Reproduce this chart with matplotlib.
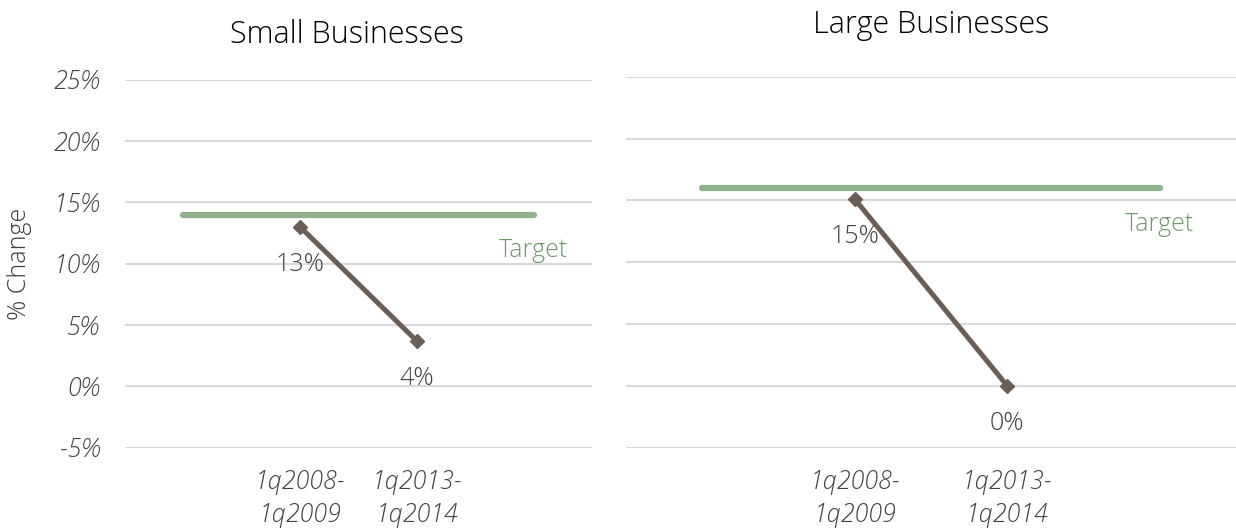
import numpy as np
import matplotlib.pyplot as plt
from matplotlib.ticker import FuncFormatter

# Category slots (Excel-style: outer two slots only carry the target line)
categories = ["", "1q2008-\n1q2009", "1q2013-\n1q2014", ""]
small_change = [np.nan, 13.0, 3.7, np.nan]
large_change = [np.nan, 15.1, 0.0, np.nan]
small_target = [14.0, 14.0, 14.0, 14.0]
large_target = [16.0, 16.0, 16.0, 16.0]
y_ticks = [-5, 0, 5, 10, 15, 20, 25]

FONT = ["Open Sans", "DejaVu Sans"]
plt.rcParams['font.family'] = FONT

LINE_C = "#6b5e56"
TARGET_C = "#8fb28c"
TARGET_TXT = "#6a9a68"
TEXT_C = "#404040"
GRID_C = "#d9d9d9"

fig = plt.figure(figsize=(12.36, 5.31), dpi=100)
ax1 = fig.add_axes([0.1011, 0.1569, 0.3778, 0.6930])
ax2 = fig.add_axes([0.5065, 0.1569, 0.4935, 0.6987])


def draw_panel(ax, change, target, show_y):
    x = np.arange(len(categories))
    ax.plot(x, target, color=TARGET_C, linewidth=4.5, solid_capstyle='round', zorder=2)
    ax.plot(x, change, color=LINE_C, linewidth=3.6, marker='D', markersize=7,
            zorder=3)

    for xi, v in zip(x, change):
        if not np.isnan(v):
            ax.annotate(f"{v:.0f}%", (xi, v), xytext=(0, -27), textcoords='offset points',
                        ha='center', va='center', fontsize=18, color=TEXT_C,
                        fontweight='light')
    ax.annotate("Target", (x[-1], target[-1]), xytext=(0, -26), textcoords='offset points',
                ha='center', va='center', fontsize=18, color=TARGET_TXT, fontweight='light')

    ax.set_xlim(-0.5, len(categories) - 0.5)
    ax.set_ylim(-5, 25)
    ax.set_yticks(y_ticks)
    ax.yaxis.set_major_formatter(FuncFormatter(lambda v, p: f"{v:.0f}%"))
    ax.set_xticks(x)
    ax.set_xticklabels(categories, linespacing=1.45)
    ax.grid(axis='y', color=GRID_C, linewidth=1.5)
    ax.set_axisbelow(True)
    for s in ax.spines.values():
        s.set_visible(False)
    ax.tick_params(axis='both', length=0, labelsize=18, colors=TEXT_C)
    ax.tick_params(axis='y', pad=18)
    ax.tick_params(axis='x', pad=16)
    for lab in ax.get_xticklabels() + ax.get_yticklabels():
        lab.set_fontstyle('italic')
        lab.set_fontweight('light')
    if not show_y:
        ax.set_yticklabels([])


draw_panel(ax1, small_change, small_target, True)
draw_panel(ax2, large_change, large_target, False)

ax1.set_ylabel("% Change", fontsize=18, color=TEXT_C, fontweight='light', va='center')
ax1.yaxis.set_label_coords(-0.225, 0.5)

fig.text(347 / 1236, 1 - 35 / 531, "Small Businesses", ha='center', va='center',
         fontsize=22, color='black', fontweight='light')
fig.text(931 / 1236, 1 - 25 / 531, "Large Businesses", ha='center', va='center',
         fontsize=22, color='black', fontweight='light')

fig.savefig("out.png", dpi=100)
